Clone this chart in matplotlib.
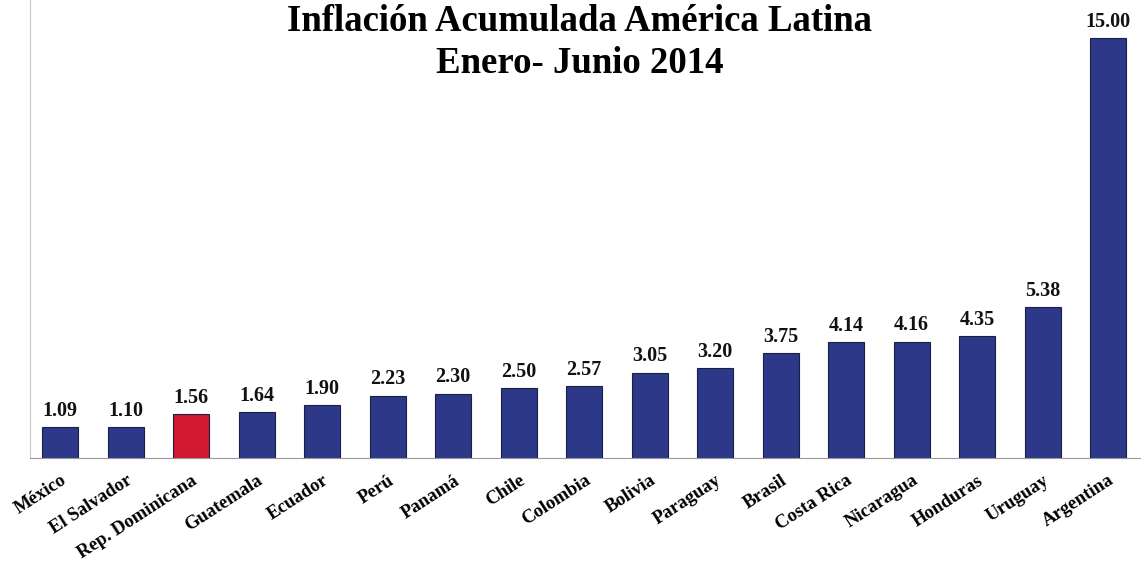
import matplotlib.pyplot as plt

paises = ['México', 'El Salvador', 'Rep. Dominicana', 'Guatemala', 'Ecuador', 'Perú',
          'Panamá', 'Chile', 'Colombia', 'Bolivia', 'Paraguay', 'Brasil', 'Costa Rica',
          'Nicaragua', 'Honduras', 'Uruguay', 'Argentina']
inflacion = [1.09, 1.10, 1.56, 1.64, 1.90, 2.23, 2.30, 2.50, 2.57, 3.05, 3.20, 3.75,
             4.14, 4.16, 4.35, 5.38, 15.00]
destacado = 'Rep. Dominicana'

plt.rcParams['font.family'] = ['Liberation Serif', 'DejaVu Serif']

fig = plt.figure(figsize=(11.41, 5.74), dpi=100)
ax = fig.add_axes([30/1141, 1 - 458/574, 1 - 30/1141, 458/574])

colores = ['#d0192f' if p == destacado else '#2d3888' for p in paises]
x = range(len(paises))
ax.bar(x, inflacion, width=0.55, color=colores, edgecolor='#1a1f4a', linewidth=0.8)

for i, v in enumerate(inflacion):
    ax.text(i, v + 0.22, f'{v:.2f}', ha='center', va='bottom', fontsize=14.5,
            fontweight='bold', color='#111111')

ax.set_xlim(-0.46, 16.5)
ax.set_ylim(0, 16.36)
ax.set_xticks(list(x))
ax.set_xticklabels(paises, rotation=33, ha='right', rotation_mode='anchor',
                   fontsize=13.5, fontweight='bold')
ax.tick_params(axis='x', length=0, pad=10)
ax.set_yticks([])
for s in ['top', 'right']:
    ax.spines[s].set_visible(False)
ax.spines['left'].set_color('#c8c8c8')
ax.spines['bottom'].set_color('#999999')
ax.spines['left'].set_linewidth(0.8)

fig.text(0.508, 0.963, 'Inflación Acumulada América Latina', ha='center', va='center',
         fontsize=26.5, fontweight='bold')
fig.text(0.508, 0.89, 'Enero- Junio 2014', ha='center', va='center',
         fontsize=26.5, fontweight='bold')

fig.savefig('out.png', dpi=100)
